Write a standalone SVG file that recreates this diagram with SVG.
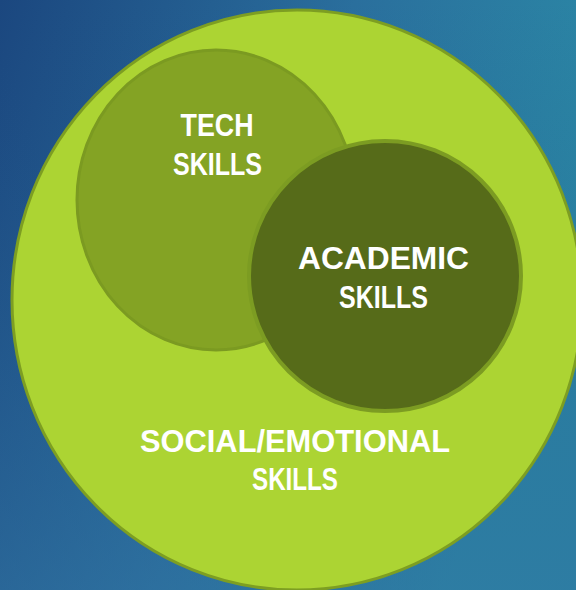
<svg xmlns="http://www.w3.org/2000/svg" width="576" height="590" viewBox="0 0 576 590">
  <defs>
    <linearGradient id="bg" x1="0" y1="0" x2="1" y2="0.35">
      <stop offset="0" stop-color="#1b477f"/>
      <stop offset="0.55" stop-color="#2a6f9d"/>
      <stop offset="1" stop-color="#2b89a6"/>
    </linearGradient>
    <linearGradient id="bg2" x1="0" y1="0" x2="0" y2="1">
      <stop offset="0" stop-color="#1b477f" stop-opacity="0"/>
      <stop offset="1" stop-color="#3070a0" stop-opacity="0.5"/>
    </linearGradient>
    <style>
      .lbl { font-family: "Liberation Sans", Arial, sans-serif; font-weight: bold; font-size: 31px; fill: #ffffff; text-anchor: middle; }
    </style>
  </defs>
  <rect x="0" y="0" width="576" height="590" fill="url(#bg)"/>
  <rect x="0" y="0" width="576" height="590" fill="url(#bg2)"/>

  <g id="social-emotional">
    <ellipse cx="297" cy="300" rx="285" ry="290" fill="#acd433" stroke="#7d9e22" stroke-width="3"/>
  </g>
  <g id="tech">
    <ellipse cx="216" cy="200" rx="139" ry="150" fill="#84a324" stroke="#7b9a21" stroke-width="3"/>
  </g>
  <g id="academic">
    <ellipse cx="385" cy="276" rx="136" ry="135" fill="#566b19" stroke="#7c9c22" stroke-width="4"/>
  </g>
  <g id="connectors"></g>

  <g id="labels">
    <text class="lbl" x="217" y="136" textLength="73" lengthAdjust="spacingAndGlyphs">TECH</text>
    <text class="lbl" x="217.5" y="175" textLength="89" lengthAdjust="spacingAndGlyphs">SKILLS</text>
    <text class="lbl" x="383.5" y="269" textLength="171" lengthAdjust="spacingAndGlyphs">ACADEMIC</text>
    <text class="lbl" x="383.5" y="308" textLength="89" lengthAdjust="spacingAndGlyphs">SKILLS</text>
    <text class="lbl" x="295" y="452" textLength="310" lengthAdjust="spacingAndGlyphs">SOCIAL/EMOTIONAL</text>
    <text class="lbl" x="295" y="490" textLength="86" lengthAdjust="spacingAndGlyphs">SKILLS</text>
  </g>
</svg>
